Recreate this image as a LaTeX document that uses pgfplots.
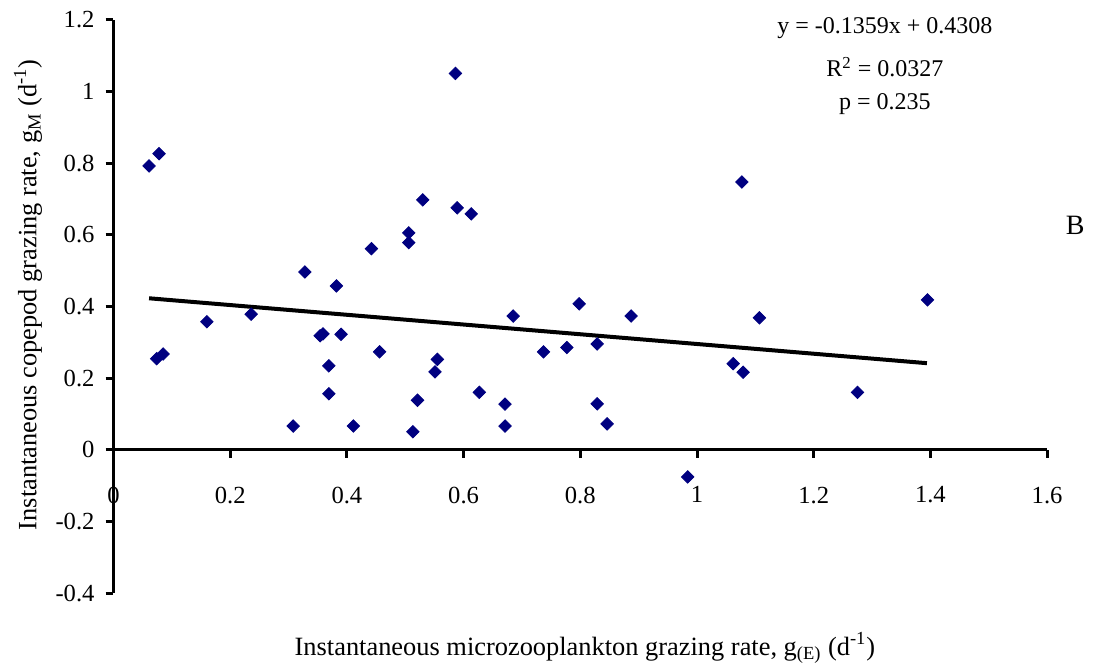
\documentclass[border=0pt]{standalone}
\usepackage{fontspec}
\setmainfont{Liberation Serif}
\usepackage{pgfplots}
\pgfplotsset{compat=1.18}
\definecolor{navy}{RGB}{0,0,128}

\pgfplotstableread{
x y
0.061 0.792
0.078 0.826
0.586 1.050
0.530 0.697
0.589 0.675
0.613 0.658
0.506 0.605
0.506 0.578
0.442 0.561
0.328 0.496
0.382 0.457
0.160 0.357
0.236 0.378
0.074 0.254
0.085 0.267
0.354 0.318
0.359 0.323
0.390 0.322
0.456 0.273
0.555 0.252
0.551 0.217
0.685 0.373
0.737 0.273
0.369 0.234
0.369 0.156
0.308 0.066
0.411 0.066
0.521 0.138
0.513 0.050
0.627 0.160
0.671 0.127
0.671 0.066
0.777 0.285
0.798 0.407
0.829 0.295
0.829 0.128
0.846 0.072
0.887 0.373
0.984 -0.076
1.062 0.240
1.079 0.216
1.107 0.368
1.275 0.160
1.395 0.418
1.077 0.747
}\pts

\begin{document}
\begin{tikzpicture}
\begin{axis}[
  at={(56.75bp,36.5bp)}, anchor=south west,
  scale only axis, width=466.8bp, height=286.65bp,
  xmin=0, xmax=1.6, ymin=-0.4, ymax=1.2,
  axis x line=middle, axis y line=left,
  hide obscured x ticks=false, hide obscured y ticks=false,
  axis line style={line width=1.5bp, -},
  every inner x axis line/.append style={-},
  every outer y axis line/.append style={-},
  xtick={0,0.2,0.4,0.6,0.8,1,1.2,1.4,1.6},
  ytick={-0.4,-0.2,0,0.2,0.4,0.6,0.8,1,1.2},
  xtick align=outside, ytick align=outside,
  major tick length=4bp,
  tick style={line width=1.5bp, black},
  /pgf/number format/assume math mode=true,
  tick label style={font=\fontsize{12.3bp}{14bp}\selectfont},
  xticklabel style={anchor=north, yshift=-11bp},
  yticklabel style={anchor=east, xshift=-2bp},
  clip=false,
  xlabel={Instantaneous microzooplankton grazing rate, g\textsubscript{(E)} (d\textsuperscript{-1})},
  ylabel={Instantaneous copepod grazing rate, g\textsubscript{M} (d\textsuperscript{-1})},
  label style={font=\fontsize{13.2bp}{15bp}\selectfont},
  xlabel style={at={(axis description cs:0.505,-0.096)}, anchor=center},
  ylabel style={at={(axis description cs:-0.0916,0.52)}, anchor=center, rotate=0},
]
\addplot[only marks, mark=square*, mark size=2.2bp, mark options={rotate=45, fill=navy, draw=navy}] table[x=x,y=y] {\pts};
\addplot[black, line width=2bp] coordinates {(0.061,0.4225) (1.394,0.2414)};
\node[font=\fontsize{12bp}{14bp}\selectfont] at (axis cs:1.322,1.176) {y = -0.1359x + 0.4308};
\node[font=\fontsize{12bp}{14bp}\selectfont] at (axis cs:1.322,1.068) {R\textsuperscript{2} = 0.0327};
\node[font=\fontsize{12bp}{14bp}\selectfont] at (axis cs:1.322,0.965) {p = 0.235};
\node[font=\fontsize{14bp}{16bp}\selectfont] at (axis cs:1.648,0.627) {B};
\end{axis}
\pgfresetboundingbox
\path[use as bounding box] (0,0) rectangle (547bp,333bp);
\end{tikzpicture}
\end{document}
